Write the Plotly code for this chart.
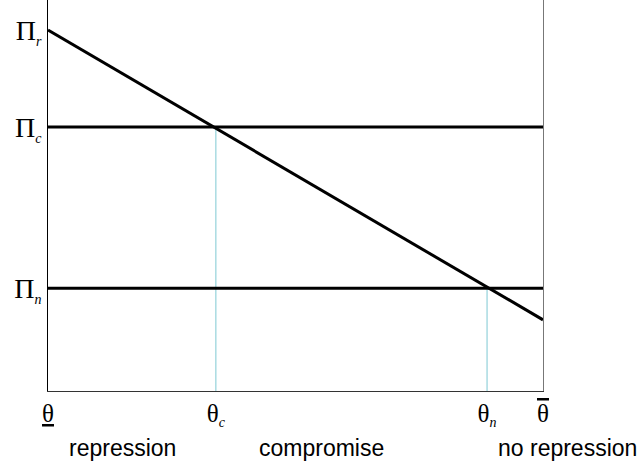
import plotly.graph_objects as go

# --- data ---
theta_ticks = [0.0, 0.339, 0.887, 1.0]
theta_labels = [
    "<span style='text-decoration:underline'>θ</span>",
    "θ<sub><span style='font-size:14px'><i>c</i></span></sub>",
    "θ<sub><span style='font-size:14px'><i>n</i></span></sub>",
    "<span style='text-decoration:overline'>θ</span>",
]
pi_r = 0.923
pi_end = 0.182
pi_c = 0.675
pi_n = 0.263
pi_ticks = [pi_r, pi_c, pi_n]
pi_labels = [
    "Π<sub><span style='font-size:14px'><i>r</i></span></sub>",
    "Π<sub><span style='font-size:14px'><i>c</i></span></sub>",
    "Π<sub><span style='font-size:14px'><i>n</i></span></sub>",
]
region_labels = ["repression", "compromise", "no repression"]
region_x = [0.15, 0.553, 1.05]

fig = go.Figure()

# vertical guide lines (light blue)
fig.add_trace(go.Scatter(x=[theta_ticks[1], theta_ticks[1]], y=[0, pi_c], mode="lines",
                         line=dict(color="#a9dbe2", width=1.5), hoverinfo="skip"))
fig.add_trace(go.Scatter(x=[theta_ticks[2], theta_ticks[2]], y=[0, pi_n], mode="lines",
                         line=dict(color="#a9dbe2", width=1.5), hoverinfo="skip"))
# horizontal payoff lines
fig.add_trace(go.Scatter(x=[theta_ticks[0], theta_ticks[3]], y=[pi_c, pi_c], mode="lines",
                         line=dict(color="black", width=3), hoverinfo="skip"))
fig.add_trace(go.Scatter(x=[theta_ticks[0], theta_ticks[3]], y=[pi_n, pi_n], mode="lines",
                         line=dict(color="black", width=3), hoverinfo="skip"))
# repression payoff (diagonal)
fig.add_trace(go.Scatter(x=[theta_ticks[0], theta_ticks[3]], y=[pi_r, pi_end], mode="lines",
                         line=dict(color="black", width=3), hoverinfo="skip"))
# invisible trace for right axis line
fig.add_trace(go.Scatter(x=[0], y=[0], yaxis="y2", mode="markers",
                         marker=dict(opacity=0), hoverinfo="skip"))

for lbl, xv in zip(region_labels, region_x):
    fig.add_annotation(x=xv, xref="paper", y=-0.145, yref="paper", text=lbl, showarrow=False,
                       font=dict(family="Liberation Sans, Arial", size=23, color="black"),
                       xanchor="center", yanchor="middle")

fig.update_layout(
    width=643, height=463, autosize=False,
    margin=dict(l=48, r=100, t=0, b=72, autoexpand=False),
    plot_bgcolor="white", paper_bgcolor="white",
    showlegend=False,
    xaxis=dict(range=[0, 1], showgrid=False, zeroline=False, showline=True,
               linecolor="#333333", linewidth=1, ticks="", automargin=False,
               tickvals=theta_ticks, ticktext=theta_labels,
               tickfont=dict(family="Liberation Serif, Times New Roman", size=25, color="black")),
    yaxis=dict(range=[0, 1], showgrid=False, zeroline=False, showline=True,
               linecolor="black", linewidth=1, ticks="", automargin=False,
               tickvals=pi_ticks, ticktext=pi_labels,
               tickfont=dict(family="Liberation Serif, Times New Roman", size=28, color="black")),
    yaxis2=dict(range=[0, 1], overlaying="y", side="right", showgrid=False, zeroline=False,
                showline=True, linecolor="#777777", linewidth=1, showticklabels=False, ticks="",
                automargin=False),
)

fig.write_html("out.html",
               config={"displayModeBar": False},
               post_script="document.body.style.margin='0';document.body.style.overflow='hidden';")
